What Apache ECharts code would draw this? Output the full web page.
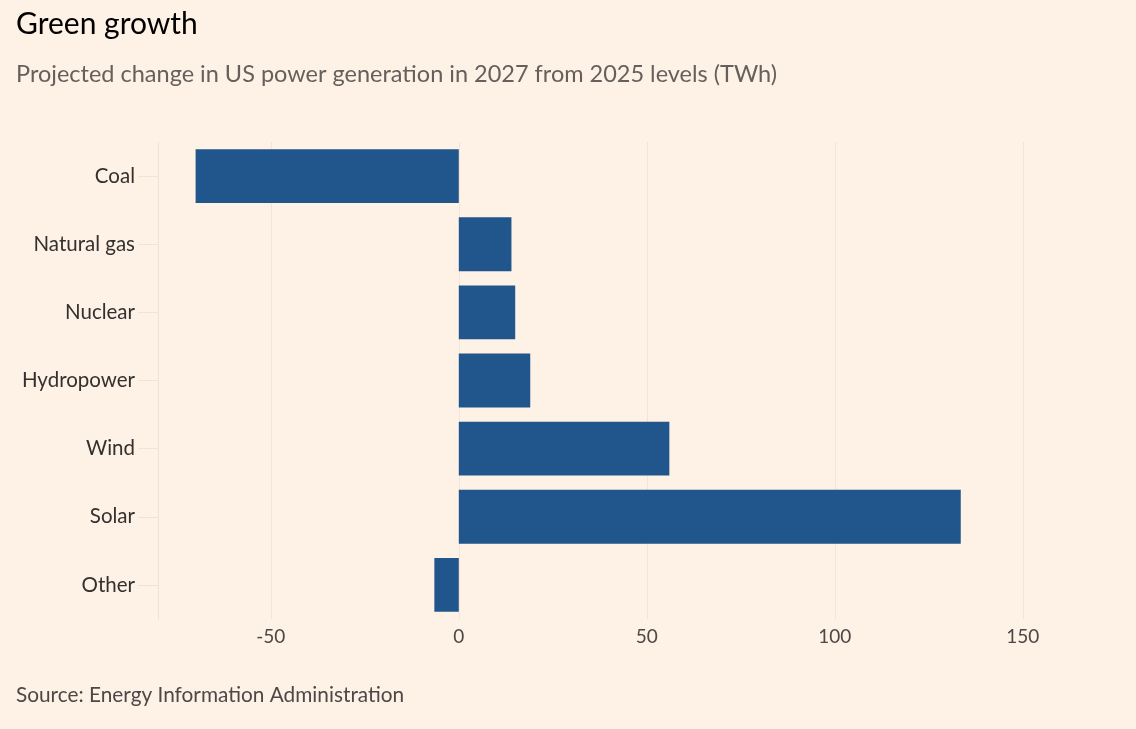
<!DOCTYPE html>
<html><head><meta charset="utf-8">
<style>html,body{margin:0;padding:0;background:#fef1e6;}#c{width:1136px;height:729px;}</style>
<script src="https://cdn.jsdelivr.net/npm/echarts@6/dist/echarts.min.js"></script>
</head><body><div id="c"></div>
<script>
const categories = ["Coal", "Natural gas", "Nuclear", "Hydropower", "Wind", "Solar", "Other"];
const values = [-70, 14, 15, 19, 56, 133.5, -6.5];
const xMin = -80, xMax = 170;

const chart = echarts.init(document.getElementById('c'));
const font = 'Lato, "Noto Sans", sans-serif';
chart.setOption({
  backgroundColor: '#fef1e6',
  animation: false,
  title: [
    {text: 'Green growth', left: 11, top: 4, textStyle: {fontFamily: font, fontSize: 30, fontWeight: 'normal', color: '#000'}},
    {text: 'Projected change in US power generation in 2027 from 2025 levels (TWh)', left: 11, top: 57, textStyle: {fontFamily: font, fontSize: 23.5, fontWeight: 'normal', color: '#66605c'}},
    {text: 'Source: Energy Information Administration', left: 11, top: 680, textStyle: {fontFamily: font, fontSize: 20.8, fontWeight: 'normal', color: '#4d4845'}}
  ],
  grid: {left: 158, right: 38, top: 142, bottom: 110, containLabel: false},
  xAxis: {
    type: 'value', min: xMin, max: xMax, splitNumber: 5,
    axisLine: {show: false}, axisTick: {show: false},
    axisLabel: {showMinLabel: false, showMaxLabel: false, fontFamily: font, fontSize: 19, color: '#4d4845', margin: 8},
    splitLine: {show: true, showMinLine: false, showMaxLine: false, lineStyle: {color: '#f3e4d8', width: 1}}
  },
  yAxis: {
    type: 'category', data: categories, inverse: true,
    axisLine: {show: true, onZero: false, lineStyle: {color: '#efe2d6'}},
    axisTick: {show: true, alignWithLabel: true, length: 20, lineStyle: {color: '#efe2d6'}},
    axisLabel: {fontFamily: font, fontSize: 20.5, color: '#33302e', margin: 23}
  },
  series: [{
    type: 'bar', data: values, barCategoryGap: '21%',
    itemStyle: {color: '#20568b'}
  }]
});
</script></body></html>
